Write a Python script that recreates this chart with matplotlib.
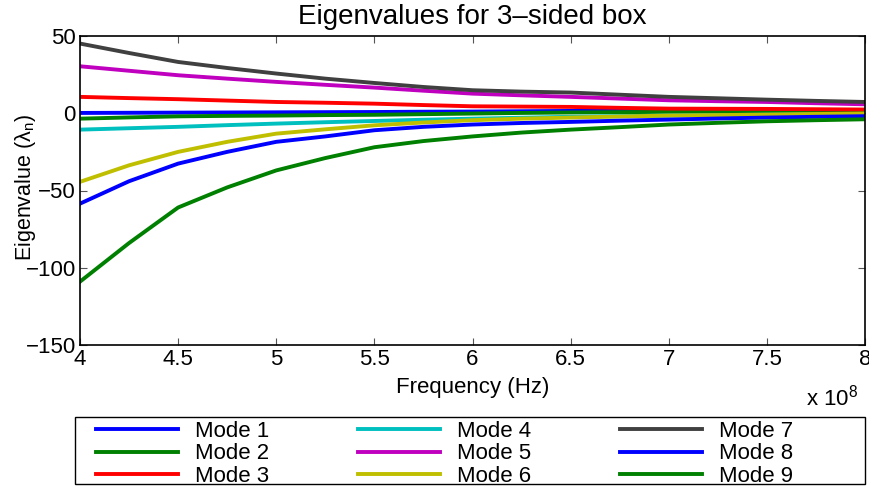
import matplotlib
matplotlib.use("Agg")
import matplotlib.pyplot as plt
import numpy as np
from matplotlib.ticker import FuncFormatter

plt.rcParams["font.family"] = ["Liberation Sans", "DejaVu Sans"]
plt.rcParams["mathtext.fontset"] = "custom"
plt.rcParams["mathtext.rm"] = "Liberation Sans"
plt.rcParams["mathtext.it"] = "Liberation Sans"
plt.rcParams["mathtext.default"] = "regular"

# frequency samples (Hz)
freq = np.array([4.0, 4.25, 4.5, 4.75, 5.0, 5.25, 5.5, 5.75, 6.0,
                 6.25, 6.5, 6.75, 7.0, 7.25, 7.5, 7.75, 8.0]) * 1e8

mode1 = [0.2, 0.3, 0.4, 0.5, 0.6, 0.7, 0.8, 1.0, 1.1, 1.3, 1.5, 1.6, 1.7, 1.8, 1.9, 2.0, 2.0]
mode2 = [-3.5, -2.7, -2.0, -1.7, -1.5, -1.2, -1.0, -0.6, -0.2, 0.2, 0.5, 0.7, 0.9, 1.0, 1.1, 1.2, 1.3]
mode3 = [10.6, 9.8, 9.1, 8.2, 7.3, 6.8, 6.2, 5.3, 4.5, 4.3, 4.1, 3.5, 3.0, 2.9, 2.8, 2.6, 2.4]
mode4 = [-10.6, -9.7, -8.8, -7.7, -6.7, -5.8, -5.0, -4.2, -3.5, -2.9, -2.3, -1.9, -1.5, -1.2, -0.9, -0.6, -0.4]
mode5 = [30.4, 27.5, 24.6, 22.4, 20.3, 18.4, 16.6, 14.6, 12.7, 11.6, 10.6, 9.5, 8.4, 7.8, 7.3, 6.5, 5.8]
mode6 = [-44.4, -33.7, -25.0, -18.5, -13.2, -10.4, -7.8, -6.0, -4.5, -3.5, -2.8, -2.1, -1.5, -1.2, -0.9, -0.5, -0.2]
mode7 = [45.1, 39.0, 33.2, 29.3, 25.7, 22.4, 19.6, 17.0, 14.9, 14.0, 13.4, 12.0, 10.6, 9.7, 8.8, 8.0, 7.3]
mode8 = [-58.5, -44.0, -32.6, -25.0, -18.5, -15.0, -11.0, -8.8, -7.3, -6.3, -5.6, -4.8, -4.1, -3.4, -2.8, -2.3, -1.9]
mode9 = [-109.0, -84.0, -61.0, -48.0, -37.0, -29.0, -22.0, -18.0, -15.0, -12.5, -10.6, -9.0, -7.3, -6.2, -5.2, -4.5, -3.9]

modes = [mode1, mode2, mode3, mode4, mode5, mode6, mode7, mode8, mode9]
labels = [f"Mode {i}" for i in range(1, 10)]
colors = [(0, 0, 1), (0, 0.5, 0), (1, 0, 0), (0, 0.75, 0.75), (0.75, 0, 0.75),
          (0.75, 0.75, 0), (0.25, 0.25, 0.25), (0, 0, 1), (0, 0.5, 0)]

W, H = 869, 488
fig = plt.figure(figsize=(W / 100, H / 100), dpi=100)
ax = fig.add_axes([80 / W, 1 - 345 / H, 785 / W, 309 / H])

for vals, lab, c in zip(modes, labels, colors):
    ax.plot(freq, vals, color=c, lw=2.8, label=lab)

ax.set_xlim(4e8, 8e8)
ax.set_ylim(-150, 50)
ax.set_xticks(np.arange(4e8, 8.01e8, 0.5e8))
ax.set_yticks([-150, -100, -50, 0, 50])
ax.xaxis.set_major_formatter(FuncFormatter(lambda v, p: f"{v / 1e8:g}"))
ax.tick_params(direction="in", top=True, right=True, labelsize=16, length=5,
               width=0.8, color="#555555", pad=3)
for s in ax.spines.values():
    s.set_linewidth(1.2)

ax.set_title("Eigenvalues for 3\u2013sided box", fontsize=20, pad=9)
ax.set_xlabel("Frequency (Hz)", fontsize=16, labelpad=5)
ax.set_ylabel("Eigenvalue (\u03bb$_n$)", fontsize=15.5)
ax.yaxis.set_label_coords(-42 / 785, 0.51)
fig.text(858 / W, 1 - 398 / H, "x 10$^8$", ha="right", va="center", fontsize=16)

# legend box drawn separately so the columns can sit like the original
fig.add_artist(plt.Rectangle((75 / W, 4 / H), 790 / W, 67 / H, transform=fig.transFigure,
                             fill=False, ec="black", lw=1.0))
fig.legend(loc="upper left", ncol=3, bbox_to_anchor=(96 / W, 1 - 421 / H),
           fontsize=16, frameon=False, handlelength=3.7, handletextpad=0.75,
           labelspacing=0.06, columnspacing=4.0, borderpad=0, borderaxespad=0)

fig.savefig("out.png", dpi=100)
